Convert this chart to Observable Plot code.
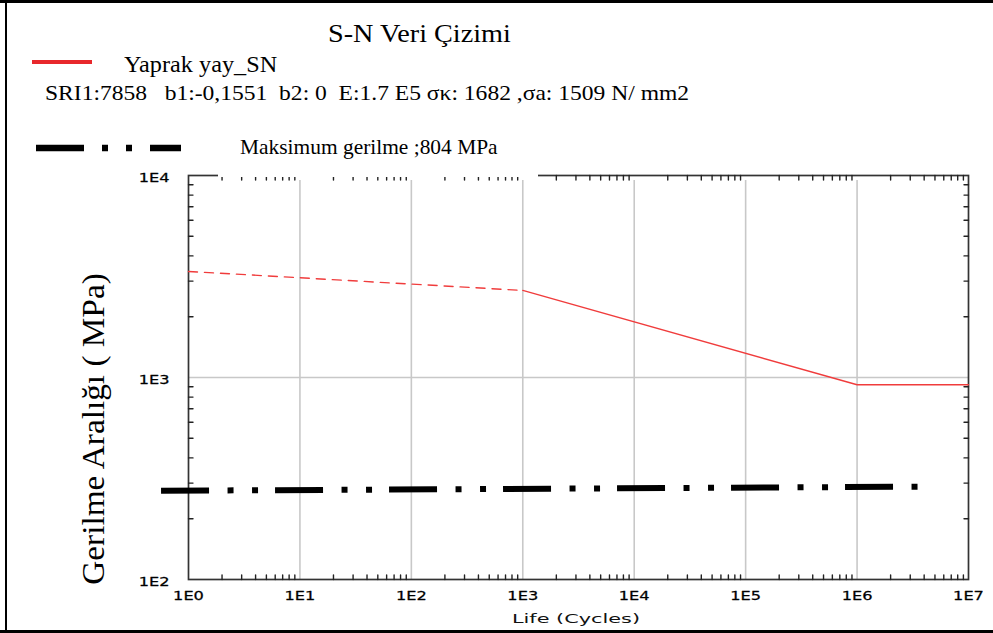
<!DOCTYPE html>
<html>
<head>
<meta charset="utf-8">
<script src="https://cdn.jsdelivr.net/npm/d3@7"></script>
<script src="https://cdn.jsdelivr.net/npm/@observablehq/plot@0.6"></script>
<style>
  html, body { margin: 0; padding: 0; background: #fff; }
  #wrap { position: relative; width: 993px; height: 633px; overflow: hidden; background: #fff;
          font-family: "Liberation Serif", "Times New Roman", serif; color: #000; }
  #chart { position: absolute; left: 0; top: 0; }
  #chart svg { overflow: visible; }
  .t { position: absolute; white-space: pre; line-height: 1; transform-origin: 0 0; }
  .sans { font-family: "DejaVu Sans", sans-serif; }
</style>
</head>
<body>
<div id="wrap">
  <div id="chart"></div>
  <!-- outer border (top, left, bottom) -->
  <div style="position:absolute;left:0;top:0;width:993px;height:3px;background:#000"></div>
  <div style="position:absolute;left:5px;top:0;width:2px;height:633px;background:#000"></div>
  <div style="position:absolute;left:0;top:630px;width:993px;height:3px;background:#000"></div>

  <div class="t" id="title" style="left:328px;top:21px;font-size:26px;transform:scaleX(1.085)"></div>
  <div style="position:absolute;left:32px;top:60px;width:60px;height:3.5px;background:#e8282c"></div>
  <div class="t" id="leg1" style="left:124px;top:53px;font-size:23px;transform:scaleX(1.055)"></div>
  <div class="t" id="params" style="left:45px;top:81.5px;font-size:22px;transform:scaleX(1.07)"></div>

  <svg id="legsample" style="position:absolute;left:36px;top:144px" width="150" height="8">
    <line x1="0" y1="4" x2="145" y2="4" stroke="#000" stroke-width="6.5" stroke-dasharray="48,18,6,18,6,18"/>
  </svg>
  <div style="position:absolute;left:218px;top:128px;width:320px;height:49px;background:#fff"></div>
  <div class="t" id="leg2" style="left:240px;top:136.5px;font-size:21px;transform:scaleX(1.02)"></div>

  <div class="t" id="ylabel" style="left:93px;top:429px;font-size:32px;transform-origin:50% 50%;transform:translate(-50%,-50%) rotate(-90deg) scaleX(1.04)"></div>
  <div class="t sans" id="xlabel" style="left:576px;top:612px;font-size:13px;color:#111;transform-origin:0 0;transform:scaleX(1.6) translate(-50%,0)"></div>
</div>
<script>
// ---- texts ----
const titleText = "S-N Veri Çizimi";
const seriesName = "Yaprak yay_SN";
const paramText = "SRI1:7858   b1:-0,1551  b2: 0  E:1.7 E5 σκ: 1682 ,σa: 1509 N/ mm2";
const limitName = "Maksimum gerilme ;804 MPa";
const yTitle = "Gerilme Aralığı ( MPa)";
const xTitle = "Life (Cycles)";

// ---- data ----
// S-N curve: extrapolated (dashed) part and fitted (solid) part
const snDashedLife   = [1, 1e3];
const snDashedStress = [3350, 2698];
const snSolidLife    = [1e3, 1e6, 1e7];
const snSolidStress  = [2698, 921, 920];
// maximum stress line
const maxLife   = [0.567, 3.6e6];
const maxStress = [275, 288];
// axis ticks
const xTickValues = [1, 10, 100, 1e3, 1e4, 1e5, 1e6, 1e7];
const xTickLabels = ["1E0", "1E1", "1E2", "1E3", "1E4", "1E5", "1E6", "1E7"];
const yTickValues = [100, 1000, 10000];
const yTickLabels = ["1E2", "1E3", "1E4"];
const xGrid = [10, 100, 1e3, 1e4, 1e5, 1e6];
const yGrid = [1000];

const minorMultipliers = [2, 3, 4, 5, 6, 7, 8, 9];
const xMinor = xTickValues.slice(0, -1).flatMap(d => minorMultipliers.map(m => d * m));
const yMinor = yTickValues.slice(0, -1).flatMap(d => minorMultipliers.map(m => d * m));

const dashed = snDashedLife.map((x, i) => ({x, y: snDashedStress[i]}));
const solid = snSolidLife.map((x, i) => ({x, y: snSolidStress[i]}));
const maxLine = maxLife.map((x, i) => ({x, y: maxStress[i]}));
const xt = xTickValues.map((v, i) => ({v, t: xTickLabels[i]}));
const yt = yTickValues.map((v, i) => ({v, t: yTickLabels[i]}));

document.getElementById("title").textContent = titleText;
document.getElementById("leg1").textContent = seriesName;
document.getElementById("params").textContent = paramText;
document.getElementById("leg2").textContent = limitName;
document.getElementById("ylabel").textContent = yTitle;
document.getElementById("xlabel").textContent = xTitle;

const tickShape = {draw(ctx, l) { ctx.moveTo(0, 0); ctx.lineTo(0, -l); }};
const tickOpts = {length: 4.5, anchor: "start", shape: tickShape, stroke: "#222", strokeWidth: 1.4};

const chart = Plot.plot({
  width: 993,
  height: 633,
  marginLeft: 188,
  marginRight: 25,
  marginTop: 175,
  marginBottom: 54,
  style: {background: "transparent", overflow: "visible"},
  x: {type: "log", domain: [1, 1e7], axis: null},
  y: {type: "log", domain: [100, 1e4], axis: null},
  marks: [
    Plot.ruleX(xGrid, {x: d => d, stroke: "#c8c8c8", strokeWidth: 1.6, insetTop: 5}),
    Plot.ruleY(yGrid, {y: d => d, stroke: "#c8c8c8", strokeWidth: 1.6}),
    Plot.frame({stroke: "#333", strokeWidth: 1.7}),
    Plot.vector(xMinor, {x: d => d, frameAnchor: "bottom", rotate: 0, ...tickOpts}),
    Plot.vector(xMinor, {x: d => d, frameAnchor: "top", rotate: 180, ...tickOpts}),
    Plot.vector(yMinor, {y: d => d, frameAnchor: "left", rotate: 90, ...tickOpts}),
    Plot.vector(yMinor, {y: d => d, frameAnchor: "right", rotate: -90, ...tickOpts}),
    Plot.line(dashed, {x: "x", y: "y", stroke: "#f03c3c", strokeWidth: 1.4, strokeDasharray: "9,7"}),
    Plot.line(solid, {x: "x", y: "y", stroke: "#f03c3c", strokeWidth: 1.4}),
    Plot.line(maxLine, {x: "x", y: "y", stroke: "#000", strokeWidth: 6, strokeLinecap: "butt",
                        strokeDasharray: "48,18.5,6,18.5,6,17"}),
    Plot.text(xt, {x: "v", text: "t", frameAnchor: "bottom", dy: 20, fontSize: 12,
                   fontFamily: "DejaVu Sans", fill: "#000", stroke: "#000", strokeWidth: 0.25}),
    Plot.text(yt, {y: "v", text: "t", frameAnchor: "left", dx: -19, dy: 3, textAnchor: "end",
                   fontSize: 12, fontFamily: "DejaVu Sans", fill: "#000", stroke: "#000", strokeWidth: 0.25})
  ]
});
document.getElementById("chart").appendChild(chart);

// widen the bitmap-like tick label font horizontally
chart.querySelectorAll('g[aria-label="text"] text').forEach(el => {
  const x = +el.getAttribute("x") || 0;
  const t = el.getAttribute("transform") || "";
  el.setAttribute("transform", `${t} translate(${x},0) scale(1.35,1) translate(${-x},0)`);
});
</script>
</body>
</html>
